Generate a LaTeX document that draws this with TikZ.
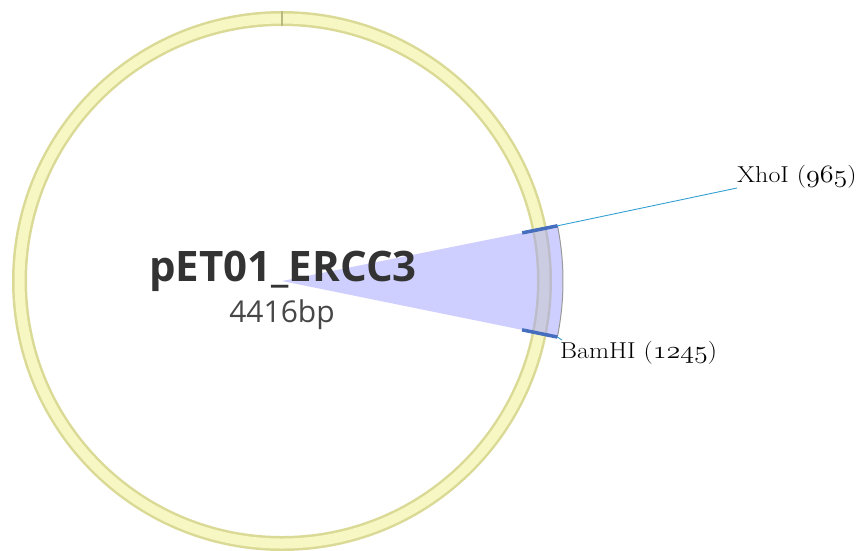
\documentclass[tikz,border=0pt]{standalone}
\usepackage{fontspec}
\newfontfamily\titlefont{Open Sans}
\usetikzlibrary{calc}
\definecolor{ringedge}{RGB}{218,218,150}
\definecolor{ringfill}{RGB}{247,247,195}
\definecolor{wedgeblue}{RGB}{160,160,255}
\definecolor{tickblue}{RGB}{70,110,190}
\definecolor{linkblue}{RGB}{50,160,210}
\definecolor{titlegrey}{RGB}{51,51,51}
\newcommand{\osnum}[1]{{\usefont{OML}{cmm}{m}{it}#1}}
\tikzset{
  ringband/.style={draw=ringedge, line width=15pt},
  ringinner/.style={draw=ringfill, line width=10pt},
  sitetick/.style={draw=tickblue, line width=3.5pt},
  sitelink/.style={draw=linkblue, line width=0.9pt},
  sitelabel/.style={inner sep=0pt, anchor=base west, font=\fontsize{23}{25}\selectfont},
}
\begin{document}
\begin{tikzpicture}[x=1pt,y=-1pt]
\useasboundingbox (0,0) rectangle (859,550);
\coordinate (c) at (282,281);
% ring
\draw[ringband] (c) circle (262.5);
\draw[ringinner] (c) circle (262.5);
\draw[draw=ringedge!85!black, line width=1.5pt] ($(c)+(-90:255)$) -- ($(c)+(-90:270)$);
% highlighted region
\fill[wedgeblue, opacity=0.5] (c) -- ($(c)+(-11.33:281)$) arc (-11.33:11.5:281) -- cycle;
\draw[gray!80, line width=1pt] ($(c)+(-11.33:281)$) arc (-11.33:11.5:281);
% site ticks
\coordinate (xi) at ($(c)+(-11.33:245)$);
\coordinate (xo) at ($(c)+(-11.33:281)$);
\coordinate (bi) at ($(c)+(11.5:245)$);
\coordinate (bo) at ($(c)+(11.5:281)$);
\draw[sitetick] (xi) -- (xo);
\draw[sitetick] (bi) -- (bo);
% labels
\node[sitelabel] (xho) at (737,182) {\scalebox{1.13}[1]{XhoI (\osnum{965})}};
\node[sitelabel] (bam) at (560,358) {\scalebox{1.13}[1]{BamHI (\osnum{1245})}};
\coordinate (xend) at (737,188);
\coordinate (bend) at (562,340);
\draw[sitelink] (xo) -- (xend);
\draw[sitelink] (bo) -- (bend);
% title
\node[anchor=base, inner sep=0pt, text=titlegrey, font=\titlefont\bfseries\fontsize{42}{46}\selectfont] (name) at (283,281) {pET01\_ERCC3};
\node[anchor=base, inner sep=0pt, text=titlegrey!90, font=\titlefont\fontsize{30}{34}\selectfont] (size) at (282,322) {4416bp};
\end{tikzpicture}
\end{document}
